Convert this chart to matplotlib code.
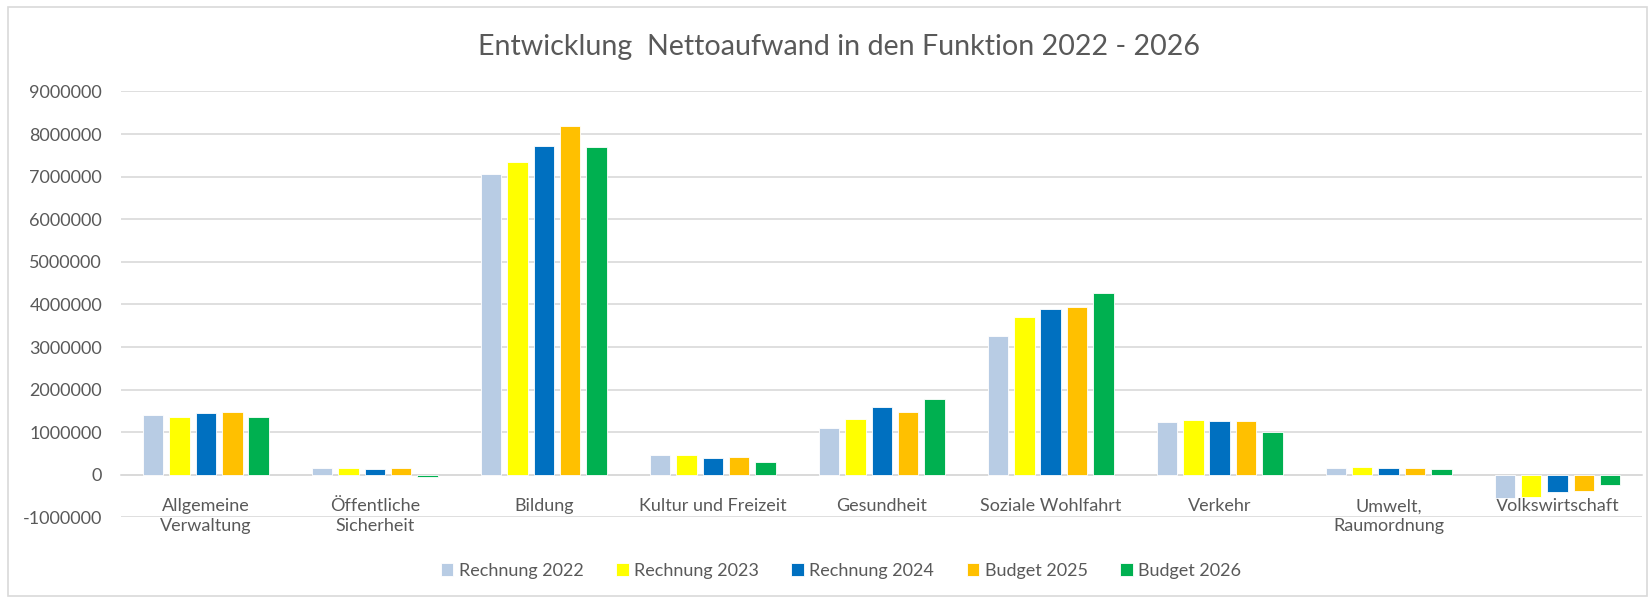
import matplotlib.pyplot as plt
import numpy as np
from matplotlib.patches import Rectangle

plt.rcParams['font.family'] = ['Lato', 'DejaVu Sans']

categories = ["Allgemeine\nVerwaltung", "Öffentliche\nSicherheit", "Bildung",
              "Kultur und Freizeit", "Gesundheit", "Soziale Wohlfahrt",
              "Verkehr", "Umwelt,\nRaumordnung", "Volkswirtschaft"]

series_names = ["Rechnung 2022", "Rechnung 2023", "Rechnung 2024",
                "Budget 2025", "Budget 2026"]

rechnung_2022 = [1400000, 150000, 7060000, 460000, 1110000, 3260000, 1230000, 150000, -550000]
rechnung_2023 = [1360000, 165000, 7350000, 460000, 1320000, 3700000, 1280000, 190000, -530000]
rechnung_2024 = [1440000, 140000, 7720000, 400000, 1600000, 3890000, 1260000, 150000, -410000]
budget_2025 = [1480000, 160000, 8180000, 410000, 1480000, 3950000, 1270000, 165000, -370000]
budget_2026 = [1350000, -50000, 7690000, 310000, 1780000, 4260000, 1010000, 140000, -240000]

colors = ["#B8CCE4", "#FFFF00", "#0070C0", "#FFC000", "#00B050"]

fig = plt.figure(figsize=(16.49, 5.98), dpi=100)
ax = fig.add_axes([121.5 / 1649, 0.1348, (1642 - 121.5) / 1649, 0.847 - 0.1348])

x = np.arange(len(categories))
pitch = 0.156
width = 0.121
for i, (vals, name) in enumerate(zip([rechnung_2022, rechnung_2023, rechnung_2024,
                                       budget_2025, budget_2026], series_names)):
    ax.bar(x + (i - 2) * pitch, vals, width, color=colors[i], label=name,
           edgecolor="white", linewidth=0.6, zorder=3)

# move the category axis to zero first, this resets the tick settings
for s in ["top", "right", "left"]:
    ax.spines[s].set_visible(False)
ax.spines["bottom"].set_position(("data", 0))
ax.spines["bottom"].set_color("#D9D9D9")
ax.spines["bottom"].set_linewidth(1.2)

ax.set_xlim(-0.5, len(categories) - 0.5)
ax.set_ylim(-1000000, 9000000)
ax.set_yticks(np.arange(-1000000, 9000001, 1000000))
ax.yaxis.set_major_formatter(plt.FuncFormatter(lambda v, p: f"{int(v)}"))
ax.grid(axis="y", color="#D9D9D9", linewidth=1.2, zorder=0)
ax.set_xticks(x)
ax.set_xticklabels(categories, fontsize=13, color="#595959", linespacing=1.3)
ax.tick_params(axis="y", length=0, pad=14, labelsize=13, labelcolor="#595959")
ax.tick_params(axis="x", length=0, pad=17)

fig.text(838.7 / 1649, 1 - 47.3 / 598, "Entwicklung  Nettoaufwand in den Funktion 2022 - 2026",
         ha="center", va="center", fontsize=20.6, color="#595959")

leg = fig.legend(loc="center", bbox_to_anchor=(841 / 1649, 1 - 571 / 598), ncol=5,
                 frameon=False, fontsize=13, handlelength=0.7, handleheight=0.7,
                 handletextpad=0.3, columnspacing=1.8)
for t in leg.get_texts():
    t.set_color("#595959")

fig.patches.append(Rectangle((8 / 1649, 2 / 598), 1639 / 1649, 589 / 598,
                             transform=fig.transFigure, fill=False,
                             edgecolor="#D9D9D9", linewidth=1.2))

fig.savefig("out.png", dpi=100)
